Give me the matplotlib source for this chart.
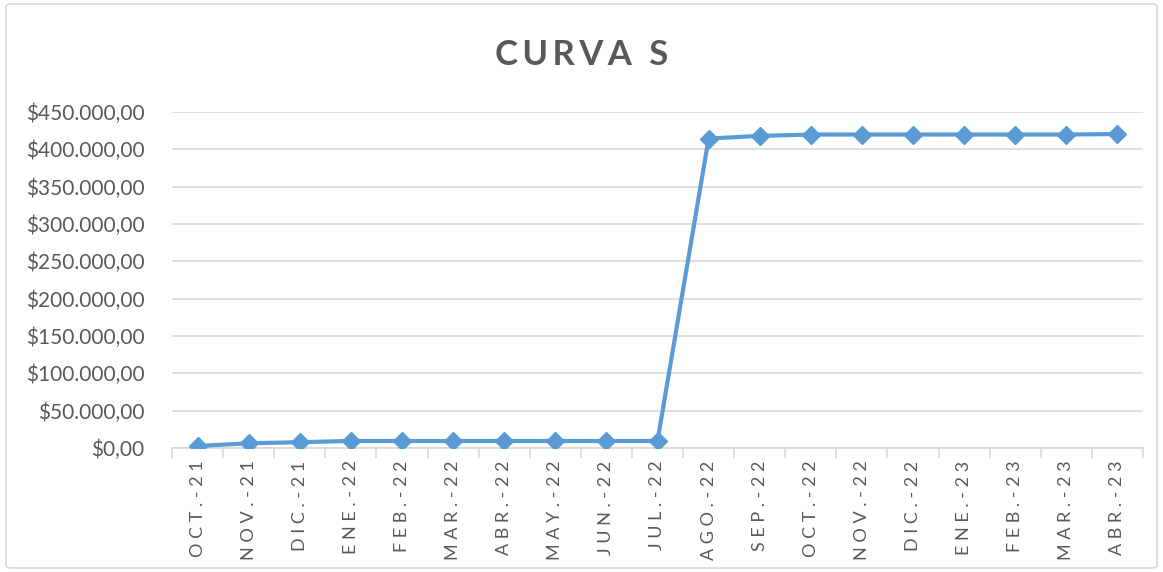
import matplotlib.pyplot as plt
from matplotlib.patches import FancyBboxPatch
from matplotlib.ticker import FuncFormatter, FixedLocator

# Data
months = ['OCT.-21', 'NOV.-21', 'DIC.-21', 'ENE.-22', 'FEB.-22', 'MAR.-22', 'ABR.-22',
          'MAY.-22', 'JUN.-22', 'JUL.-22', 'AGO.-22', 'SEP.-22', 'OCT.-22', 'NOV.-22',
          'DIC.-22', 'ENE.-23', 'FEB.-23', 'MAR.-23', 'ABR.-23']
values = [2700, 6300, 7800, 9400, 9400, 9400, 9400, 9400, 9400, 9400,
          414500, 418000, 419800, 419800, 419800, 419800, 419800, 419800, 420500]

text_color = '#595959'
line_color = '#5B9BD5'
grid_color = '#D9D9D9'

plt.rcParams['font.family'] = ['Lato', 'DejaVu Sans']

fig = plt.figure(figsize=(11.63, 5.72), dpi=100)
ax = fig.add_axes([172 / 1163, 1 - 448 / 572, 971 / 1163, 336 / 572])

x = list(range(len(months)))
ax.plot(x, values, color=line_color, lw=3, marker='D', markersize=9,
        markeredgecolor=line_color, markerfacecolor=line_color, zorder=3)

ax.set_xlim(-0.5, len(months) - 0.5)
ax.set_ylim(0, 450000)
ax.set_yticks(range(0, 450001, 50000))


def money(v, pos):
    s = f'{v:,.2f}'.replace(',', 'X').replace('.', ',').replace('X', '.')
    return '$' + s


ax.yaxis.set_major_formatter(FuncFormatter(money))
ax.grid(axis='y', color=grid_color, lw=1.2)
ax.set_axisbelow(True)

ax.set_xticks(x)
ax.set_xticklabels([' '.join(m) for m in months], rotation=90)
ax.xaxis.set_minor_locator(FixedLocator([i - 0.5 for i in range(len(months) + 1)]))
ax.tick_params(axis='x', which='major', length=0, pad=9, labelsize=13, colors=text_color)
ax.tick_params(axis='x', which='minor', length=7, color=grid_color, width=1.2)
ax.tick_params(axis='y', length=0, pad=20, labelsize=15, colors=text_color)

for side in ['top', 'right', 'left']:
    ax.spines[side].set_visible(False)
ax.spines['bottom'].set_color(grid_color)
ax.spines['bottom'].set_linewidth(1.2)

fig.text(0.5, 1 - 55 / 572, '\u2009'.join('CURVA') + '\u2009 \u2009S',
         ha='center', va='center', fontsize=25, fontweight='bold', color=text_color)

border = FancyBboxPatch((6 / 1163, 4 / 572), 1 - 12 / 1163, 1 - 8 / 572,
                        boxstyle='round,pad=0,rounding_size=0.005',
                        transform=fig.transFigure, fill=False, ec=grid_color, lw=1.2)
fig.patches.append(border)

fig.savefig('out.png', dpi=100)
